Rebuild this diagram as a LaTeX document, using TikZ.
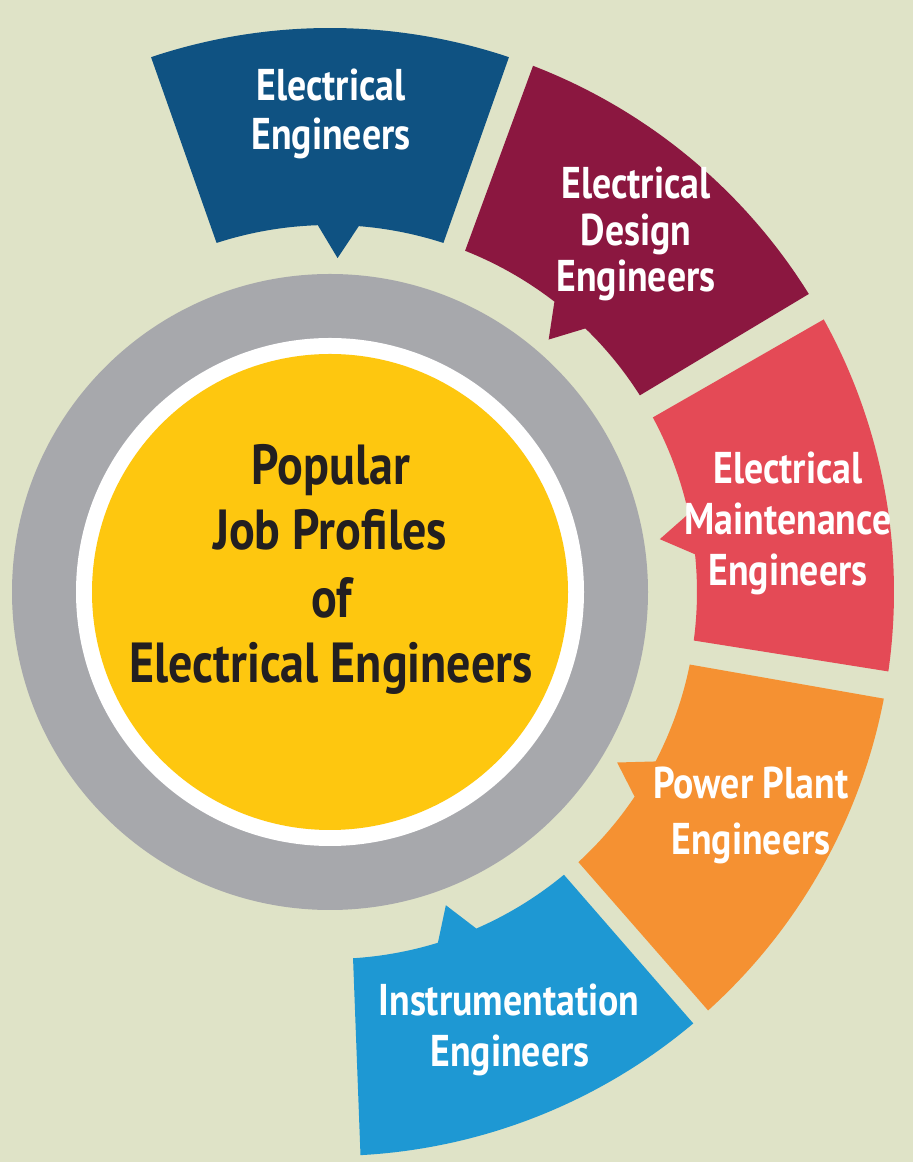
\documentclass[tikz,border=0pt]{standalone}
\usepackage{fontspec}
\setmainfont{PT Sans}[FakeStretch=0.85]
\definecolor{bgc}{HTML}{DFE3C7}
\definecolor{segA}{HTML}{0F5282}
\definecolor{segB}{HTML}{8B1740}
\definecolor{segC}{HTML}{E44A56}
\definecolor{segD}{HTML}{F59132}
\definecolor{segE}{HTML}{1E98D3}
\definecolor{ringgray}{HTML}{A7A8AC}
\definecolor{coreyellow}{HTML}{FEC70F}
\definecolor{textdark}{HTML}{231F20}
\tikzset{
  lbl/.style={font=\bfseries\fontsize{44.5}{44.5}\selectfont, text=white, anchor=base, inner sep=0pt},
  ctr/.style={font=\bfseries\fontsize{56.5}{56.5}\selectfont, text=textdark, anchor=base, inner sep=0pt}
}
\begin{document}
\begin{tikzpicture}[x=1pt,y=1pt]
\fill[bgc] (0,0) rectangle (913,1162);
\useasboundingbox (0,0) rectangle (913,1162);
\begin{scope}[shift={(330,570)}]
  \foreach \th/\col in {90/segA,50.4/segB,10.4/segC,-29.4/segD,-68.4/segE}{
    \pgfmathsetmacro{\oa}{\th+18.5}
    \pgfmathsetmacro{\ob}{\th-18.5}
    \pgfmathsetmacro{\ia}{\th+18}
    \pgfmathsetmacro{\ib}{\th-18}
    \pgfmathsetmacro{\tp}{\th-1.3}
    \pgfmathsetmacro{\pa}{\tp+3.2}
    \pgfmathsetmacro{\pb}{\tp-3.2}
    \fill[\col] (\oa:564) arc[start angle=\oa, end angle=\ob, radius=564]
      -- (\ib:367) arc[start angle=\ib, end angle=\pb, radius=367]
      -- (\tp:334) -- (\pa:367)
      arc[start angle=\pa, end angle=\ia, radius=367] -- cycle;
  }
  \fill[ringgray] (0,0) circle[radius=318];
  \fill[white] (0,0) circle[radius=254];
  \fill[coreyellow] (0,0) circle[radius=238];
\end{scope}
% centre text
\node[ctr] (c1) at (331,677) {Popular};
\node[ctr] (c2) at (330,612) {Job Profiles};
\node[ctr] (c3) at (332,544) {of};
\node[ctr] (c4) at (331,479) {Electrical Engineers};
% segment labels
\node[lbl] (a1) at (331,1061) {Electrical};
\node[lbl] (a2) at (331,1012) {Engineers};
\node[lbl] (b1) at (636,963) {Electrical};
\node[lbl] (b2) at (636,916) {Design};
\node[lbl] (b3) at (636,870) {Engineers};
\node[lbl] (d1) at (788,678) {Electrical};
\node[lbl] (d2) at (788,627) {Maintenance};
\node[lbl] (d3) at (788,576) {Engineers};
\node[lbl] (e1) at (751,363) {Power Plant};
\node[lbl] (e2) at (751,307) {Engineers};
\node[lbl] (f1) at (509,146) {Instrumentation};
\node[lbl] (f2) at (510,95) {Engineers};
\end{tikzpicture}
\end{document}
